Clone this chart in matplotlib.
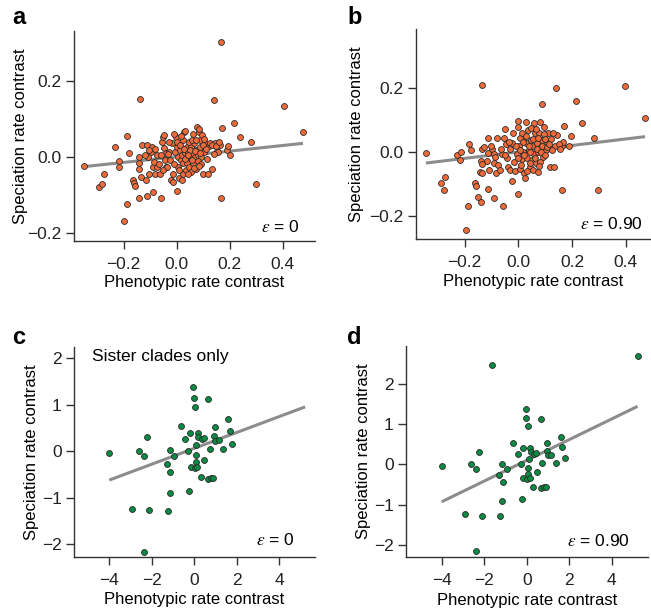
#!/usr/bin/env python3
"""Speciation rate contrast vs phenotypic rate contrast, four panels."""
import numpy as np
import matplotlib
matplotlib.use("Agg")
import matplotlib.pyplot as plt

plt.rcParams["font.family"] = ["Liberation Sans", "DejaVu Sans"]
plt.rcParams["mathtext.fontset"] = "stix"

LABEL_FONTSIZE = 12
TICK_FONTSIZE = 12.5
ORANGE = "#F06B3A"
GREEN = "#0B8A42"
LINE_GREY = "#8C8C8C"
SPINE = "#333333"

# panel a: all contrasts, epsilon = 0
a_pts = [
    (-0.348, -0.024), (-0.294, -0.079), (-0.281, -0.072), (-0.275, -0.046),
    (-0.231, 0.026), (-0.217, -0.010), (-0.218, -0.028), (-0.188, 0.055),
    (-0.178, 0.011), (-0.188, -0.125), (-0.200, -0.169), (-0.164, -0.061),
    (-0.162, -0.069), (-0.157, -0.076), (-0.140, -0.108), (-0.138, 0.153),
    (-0.140, 0.000), (-0.140, -0.031), (-0.142, -0.017), (-0.132, 0.031),
    (-0.135, -0.052), (-0.117, -0.061), (-0.113, -0.103), (-0.112, 0.031),
    (-0.109, 0.000), (-0.103, -0.044), (-0.094, 0.026), (-0.096, 0.013),
    (-0.090, -0.026), (-0.090, -0.092), (-0.085, -0.013), (-0.080, -0.044),
    (-0.075, 0.004), (-0.073, -0.026), (-0.063, -0.044), (-0.058, -0.107),
    (-0.054, 0.038), (-0.050, 0.052), (-0.048, 0.057), (-0.046, 0.023),
    (-0.044, -0.009), (-0.041, -0.026), (-0.038, 0.011), (-0.035, -0.026),
    (-0.028, 0.013), (-0.025, -0.009), (-0.021, -0.061), (-0.018, 0.035),
    (-0.015, -0.066), (-0.013, -0.044), (-0.006, 0.013), (-0.003, 0.052),
    (0.000, -0.089), (0.003, 0.026), (0.004, 0.000), (0.006, -0.026),
    (0.008, -0.057), (0.013, 0.017), (0.015, -0.009), (0.019, 0.006),
    (0.023, -0.044), (0.025, -0.017), (0.028, 0.066), (0.031, 0.068),
    (0.033, 0.009), (0.035, -0.035), (0.038, 0.000), (0.038, 0.026),
    (0.041, -0.017), (0.045, 0.013), (0.048, -0.026), (0.050, 0.004),
    (0.053, -0.041), (0.056, 0.026), (0.059, 0.009), (0.063, -0.017),
    (0.066, 0.035), (0.069, 0.000), (0.073, -0.031), (0.075, 0.017),
    (0.078, 0.079), (0.082, 0.004), (0.084, 0.065), (0.085, 0.074),
    (0.088, 0.044), (0.090, 0.026), (0.094, 0.000), (0.097, 0.057),
    (0.100, -0.044), (0.103, 0.013), (0.107, 0.035), (0.119, -0.044),
    (0.123, 0.028), (0.128, 0.035), (0.133, -0.031), (0.142, 0.148),
    (0.145, 0.035), (0.151, 0.016), (0.157, 0.013), (0.163, 0.030),
    (0.167, -0.109), (0.168, 0.301), (0.173, 0.076), (0.192, 0.017),
    (0.195, 0.029), (0.200, 0.004), (0.217, 0.090), (0.238, 0.051),
    (0.282, 0.039), (0.301, -0.072), (0.404, 0.134), (0.477, 0.064),
    (-0.060, 0.005), (-0.030, 0.040), (-0.010, -0.020), (0.000, 0.040),
    (0.010, -0.035), (0.012, 0.030), (0.020, -0.060), (0.025, 0.045),
    (0.030, -0.005), (0.042, -0.045), (0.047, 0.040), (0.052, 0.018),
    (0.058, -0.008), (0.060, 0.045), (0.065, -0.030), (0.070, 0.015),
    (0.080, -0.010), (0.088, 0.010), (0.092, -0.018), (0.098, 0.030),
    (0.110, 0.020), (0.115, -0.005), (0.135, 0.030), (0.140, 0.008),
    (-0.120, 0.005), (-0.105, 0.018), (-0.068, -0.020), (-0.050, -0.035),
    (-0.032, 0.008), (-0.008, 0.060), (0.018, 0.055), (0.028, 0.020),
    (0.044, 0.005), (0.062, 0.060), (0.072, 0.045), (0.085, -0.025),
    (0.105, 0.048), (0.150, 0.028), (0.160, 0.040), (-0.080, 0.020),
]

# panel b: all contrasts, epsilon = 0.90
b_pts = [
    (-0.344, -0.002), (-0.289, -0.097), (-0.277, -0.119), (-0.272, -0.077),
    (-0.227, -0.011), (-0.217, -0.024), (-0.212, 0.001), (-0.185, 0.026),
    (-0.178, 0.005), (-0.186, -0.170), (-0.196, -0.244), (-0.163, -0.097),
    (-0.159, -0.106), (-0.152, -0.141), (-0.139, -0.156), (-0.137, 0.208),
    (-0.140, -0.028), (-0.135, -0.038), (-0.137, 0.009), (-0.142, -0.064),
    (-0.134, -0.067), (-0.128, 0.014), (-0.118, -0.029), (-0.112, -0.117),
    (-0.114, 0.043), (-0.113, -0.004), (-0.108, -0.056), (-0.097, 0.008),
    (-0.092, -0.005), (-0.089, -0.035), (-0.092, -0.143), (-0.086, -0.015),
    (-0.083, -0.067), (-0.080, 0.045), (-0.075, -0.042), (-0.062, -0.006),
    (-0.056, -0.169), (-0.052, 0.044), (-0.048, 0.073), (-0.045, 0.025),
    (-0.042, -0.020), (-0.040, -0.046), (-0.031, -0.058), (-0.025, 0.027),
    (-0.022, -0.091), (-0.019, 0.058), (-0.012, -0.061), (-0.006, -0.006),
    (-0.002, 0.098), (0.000, -0.132), (0.000, 0.079), (0.002, 0.017),
    (0.006, -0.054), (0.012, -0.023), (0.016, 0.038), (0.019, 0.001),
    (0.022, -0.067), (0.025, -0.080), (0.027, 0.092), (0.030, 0.027),
    (0.034, -0.018), (0.035, 0.069), (0.040, 0.006), (0.043, -0.046),
    (0.047, 0.038), (0.050, -0.025), (0.052, 0.017), (0.056, -0.056),
    (0.058, 0.090), (0.060, -0.006), (0.062, 0.060), (0.066, -0.035),
    (0.070, 0.027), (0.074, -0.062), (0.075, 0.001), (0.078, 0.058),
    (0.081, 0.092), (0.084, 0.015), (0.087, 0.150), (0.089, 0.038),
    (0.093, -0.015), (0.097, 0.079), (0.102, 0.006), (0.106, 0.032),
    (0.112, 0.058), (0.117, -0.048), (0.133, -0.048), (0.137, 0.017),
    (0.140, 0.199), (0.145, 0.053), (0.161, -0.119), (0.164, 0.017),
    (0.166, 0.032), (0.169, 0.081), (0.190, 0.019), (0.195, 0.051),
    (0.215, 0.160), (0.236, 0.090), (0.280, 0.043), (0.298, -0.120),
    (0.398, 0.206), (0.472, 0.106),
    (-0.065, 0.010), (-0.035, 0.030), (-0.015, -0.030), (0.005, 0.045),
    (0.010, -0.040), (0.014, 0.060), (0.020, -0.010), (0.028, 0.050),
    (0.032, -0.060), (0.038, 0.020), (0.045, 0.000), (0.048, 0.075),
    (0.055, 0.040), (0.063, -0.020), (0.068, 0.010), (0.072, 0.045),
    (0.080, -0.030), (0.085, 0.000), (0.090, 0.020), (0.095, 0.055),
    (0.100, -0.010), (0.108, 0.015), (0.120, 0.040), (0.125, 0.005),
    (0.130, 0.060), (0.150, 0.025), (0.155, 0.008), (-0.100, 0.020),
    (-0.070, -0.055), (-0.050, -0.010), (-0.030, 0.010), (-0.010, 0.020),
    (0.000, -0.020), (0.008, 0.005), (0.018, 0.030), (0.042, -0.035),
    (0.065, 0.070), (0.078, -0.045), (0.098, 0.040), (0.115, 0.025),
]

# panels c and d: sister clades only (same points, c clips the two top ones)
sister_pts = [
    (-4.00, -0.03), (-2.60, 0.01), (-2.38, -0.11), (-2.23, 0.31),
    (-2.92, -1.24), (-2.12, -1.27), (-2.37, -2.16), (-1.24, -1.28),
    (-1.16, -0.90), (-1.13, -0.44), (-1.16, 0.02), (-1.30, -0.27),
    (-0.93, -0.11), (-0.63, 0.54), (-0.42, 0.26), (-0.28, 0.01),
    (-0.24, -0.86), (-0.19, 0.40), (-0.17, -0.33), (-0.05, 1.38),
    (-0.02, 1.14), (0.05, 0.96), (0.02, -0.36), (0.08, -0.09),
    (0.08, -0.24), (0.09, 0.14), (0.14, -0.33), (0.16, 0.40),
    (0.20, 0.31), (0.30, -0.55), (0.35, 0.26), (0.45, 0.28),
    (0.47, -0.18), (0.67, 1.13), (0.67, -0.59), (0.80, -0.57),
    (0.89, -0.57), (0.72, 0.04), (0.94, 0.32), (0.97, 0.52),
    (0.99, 0.22), (1.16, 0.24), (1.36, 0.04), (1.60, 0.69),
    (1.66, 0.43), (1.80, 0.15), (-1.62, 2.47), (5.22, 2.70),
]

# regression fits (slope, intercept)
fit_a = (0.074, 0.000)
fit_b = (0.101, 0.000)
fit_c = (0.171, 0.064)
fit_d = (0.257, 0.099)


def tick_text(v, fmt):
    return (fmt % v).replace("-", "\u2212")


def style_axes(ax, ylab_x, xlab_y):
    for s in ("top", "right"):
        ax.spines[s].set_visible(False)
    for s in ("left", "bottom"):
        ax.spines[s].set_color(SPINE)
        ax.spines[s].set_linewidth(1.0)
    ax.tick_params(direction="out", length=6, width=1.0, color=SPINE,
                   labelsize=TICK_FONTSIZE, labelcolor="#222222")
    ax.tick_params(axis="x", pad=5.5)
    ax.tick_params(axis="y", pad=3)
    ax.set_xlabel("Phenotypic rate contrast", fontsize=LABEL_FONTSIZE, va="center")
    ax.set_ylabel("Speciation rate contrast", fontsize=LABEL_FONTSIZE, va="center")
    ax.xaxis.set_label_coords(0.5, xlab_y)
    ax.yaxis.set_label_coords(ylab_x, 0.5)


def panel(ax, pts, fit, color, xlim, ylim, xticks, yticks, fmt, eps, eps_pos,
          ylab_x, xlab_y):
    x = np.array([p[0] for p in pts])
    y = np.array([p[1] for p in pts])
    xs = np.array([x.min(), x.max()])
    ax.plot(xs, fit[0] * xs + fit[1], color=LINE_GREY, lw=2.2,
            solid_capstyle="butt", zorder=1)
    ax.scatter(x, y, s=18, c=color, edgecolors="#2a2a2a", linewidths=0.6, zorder=2)
    ax.set_xlim(*xlim)
    ax.set_ylim(*ylim)
    ax.set_xticks(xticks)
    ax.set_yticks(yticks)
    ax.set_xticklabels([tick_text(t, fmt) for t in xticks])
    ax.set_yticklabels([tick_text(t, fmt) for t in yticks])
    ax.text(eps_pos[0], eps_pos[1], r"$\varepsilon$ = " + eps, transform=ax.transAxes,
            ha="right", va="center", fontsize=LABEL_FONTSIZE + 0.5)
    style_axes(ax, ylab_x, xlab_y)


fig = plt.figure(figsize=(6.51, 6.10), dpi=100)
ax_a = fig.add_axes([0.1137, 0.605, 0.370, 0.344])
ax_b = fig.add_axes([0.6386, 0.6077, 0.3614, 0.3448])
ax_c = fig.add_axes([0.1137, 0.0874, 0.370, 0.344])
ax_d = fig.add_axes([0.6237, 0.0869, 0.372, 0.346])

rate_x = [-0.2, 0.0, 0.2, 0.4]
panel(ax_a, a_pts, fit_a, ORANGE, (-0.387, 0.522), (-0.221, 0.33),
      rate_x, [-0.2, 0.0, 0.2], "%.1f", "0", (0.938, 0.068), -0.224, -0.2)
panel(ax_b, b_pts, fit_b, ORANGE, (-0.382, 0.494), (-0.273, 0.384),
      rate_x, [-0.2, 0.0, 0.2], "%.1f", "0.90", (0.966, 0.073), -0.251, -0.2)
panel(ax_c, sister_pts, fit_c, GREEN, (-5.66, 5.68), (-2.27, 2.25),
      [-4, -2, 0, 2, 4], [-2, -1, 0, 1, 2], "%d", "0", (0.917, 0.08), -0.176, -0.206)
panel(ax_d, sister_pts, fit_d, GREEN, (-5.68, 5.72), (-2.30, 2.94),
      [-4, -2, 0, 2, 4], [-2, -1, 0, 1, 2], "%d", "0.90", (0.924, 0.077), -0.176, -0.204)

ax_c.text(0.073, 0.952, "Sister clades only", transform=ax_c.transAxes,
          ha="left", va="center", fontsize=LABEL_FONTSIZE + 0.5)

for lbl, fx, fy in (("a", 12, 6), ("b", 347, 6), ("c", 12, 326), ("d", 347, 326)):
    fig.text(fx / 651, 1 - fy / 610, lbl, fontsize=17, fontweight="bold",
             ha="left", va="top")

fig.savefig("out.png", dpi=100)
